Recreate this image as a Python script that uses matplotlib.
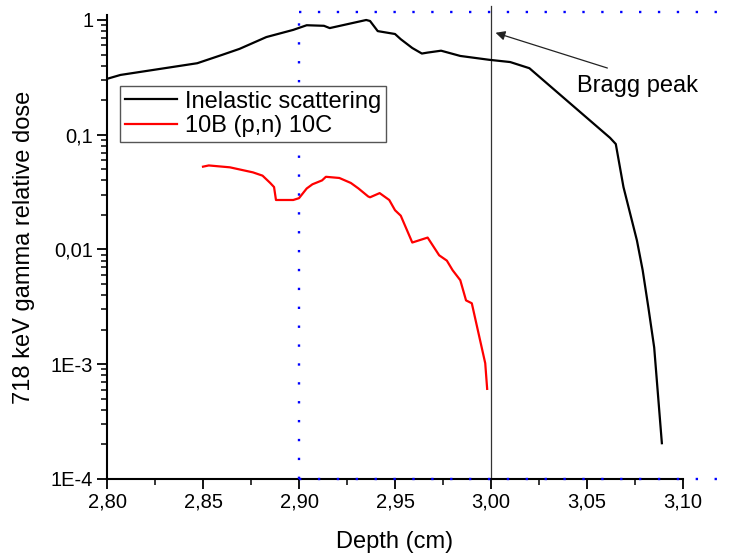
import matplotlib

matplotlib.use("Agg")
import matplotlib.pyplot as plt
from matplotlib.ticker import FixedLocator, LogLocator, NullFormatter

plt.rcParams["font.family"] = ["Liberation Sans", "DejaVu Sans"]

# Inelastic scattering curve (depth in cm, relative dose)
inelastic_x = [2.800, 2.807, 2.847, 2.860, 2.869, 2.883, 2.897, 2.904, 2.913,
               2.916, 2.935, 2.937, 2.941, 2.950, 2.953, 2.959, 2.964, 2.967,
               2.974, 2.984, 2.999, 3.010, 3.020, 3.062, 3.065, 3.069, 3.076,
               3.079, 3.082, 3.085, 3.089]
inelastic_y = [0.307, 0.332, 0.42, 0.497, 0.56, 0.71, 0.82, 0.90, 0.89,
               0.85, 1.0, 0.98, 0.80, 0.755, 0.68, 0.57, 0.51, 0.52,
               0.54, 0.486, 0.45, 0.43, 0.38, 0.094, 0.083, 0.035, 0.012,
               0.0066, 0.0031, 0.0014, 2.05e-4]

# 10B(p,n)10C curve
boron_x = [2.850, 2.853, 2.864, 2.876, 2.881, 2.885, 2.887, 2.888, 2.894,
           2.897, 2.900, 2.904, 2.907, 2.912, 2.914, 2.921, 2.927, 2.931,
           2.936, 2.937, 2.942, 2.947, 2.950, 2.953, 2.959, 2.967, 2.973,
           2.977, 2.980, 2.984, 2.987, 2.990, 2.997, 2.998]
boron_y = [0.0527, 0.054, 0.052, 0.047, 0.044, 0.038, 0.035, 0.027, 0.027,
           0.027, 0.028, 0.034, 0.037, 0.040, 0.043, 0.042, 0.038, 0.034,
           0.029, 0.0285, 0.031, 0.027, 0.022, 0.0197, 0.0115, 0.0127, 0.0089,
           0.0080, 0.0066, 0.0054, 0.0036, 0.0034, 1.02e-3, 6.1e-4]

x_ticks = [2.80, 2.85, 2.90, 2.95, 3.00, 3.05, 3.10]
x_tick_labels = ["2,80", "2,85", "2,90", "2,95", "3,00", "3,05", "3,10"]
y_ticks = [1e-4, 1e-3, 1e-2, 1e-1, 1]
y_tick_labels = ["1E-4", "1E-3", "0,01", "0,1", "1"]

fig = plt.figure(figsize=(7.34, 5.54), dpi=100)
ax = fig.add_axes([0.1458, 0.1354, 0.7847, 0.8375])

ax.plot(inelastic_x, inelastic_y, color="black", lw=1.6,
        label="Inelastic scattering", zorder=3)
ax.plot(boron_x, boron_y, color="#ff0000", lw=1.6,
        label="10B (p,n) 10C", zorder=3)

ax.set_yscale("log")
ax.set_xlim(2.80, 3.10)
ax.set_ylim(1e-4, 1.105)

# blue dotted region marker and vertical Bragg line
blue_kw = dict(color="#0000ff", lw=1.7, dashes=(1, 7), clip_on=False, zorder=5)
ax.plot([2.90, 2.90], [1e-4, 1.17], **blue_kw)
ax.plot([2.90, 3.122], [1.17, 1.17], **blue_kw)
ax.plot([2.90, 3.122], [1e-4, 1e-4], **blue_kw)
ax.plot([3.00, 3.00], [1e-4, 1.32], color="#333333", lw=0.9, clip_on=False, zorder=2)

ax.annotate("", xy=(3.001, 0.787), xytext=(3.062, 0.375),
            arrowprops=dict(arrowstyle="-|>", color="#222222", lw=0.9,
                            mutation_scale=14))
ax.text(3.045, 0.267, "Bragg peak", fontsize=17, va="center", ha="left")

ax.xaxis.set_major_locator(FixedLocator(x_ticks))
ax.set_xticklabels(x_tick_labels)
ax.xaxis.set_minor_locator(FixedLocator([2.825, 2.875, 2.925, 2.975, 3.025, 3.075]))
ax.yaxis.set_major_locator(FixedLocator(y_ticks))
ax.set_yticklabels(y_tick_labels)
ax.yaxis.set_minor_locator(LogLocator(base=10, subs=range(2, 10)))
ax.yaxis.set_minor_formatter(NullFormatter())

ax.tick_params(which="major", direction="out", length=7, width=1.3,
               labelsize=14.5, pad=3)
ax.tick_params(which="minor", direction="out", length=4, width=1.1)

for side in ["top", "right"]:
    ax.spines[side].set_visible(False)
for side in ["left", "bottom"]:
    ax.spines[side].set_linewidth(1.5)

ax.set_xlabel("Depth (cm)", fontsize=17, labelpad=14)
ax.set_ylabel("718 keV gamma relative dose", fontsize=17, labelpad=11)

leg = ax.legend(loc="upper left", bbox_to_anchor=(0.0226, 0.847),
                borderaxespad=0, fontsize=17, fancybox=False,
                edgecolor="#555555", framealpha=1, handlelength=2.2,
                handletextpad=0.35, labelspacing=0.1, borderpad=0.2)
leg.get_frame().set_linewidth(1.0)

fig.savefig("out.png", dpi=100)
